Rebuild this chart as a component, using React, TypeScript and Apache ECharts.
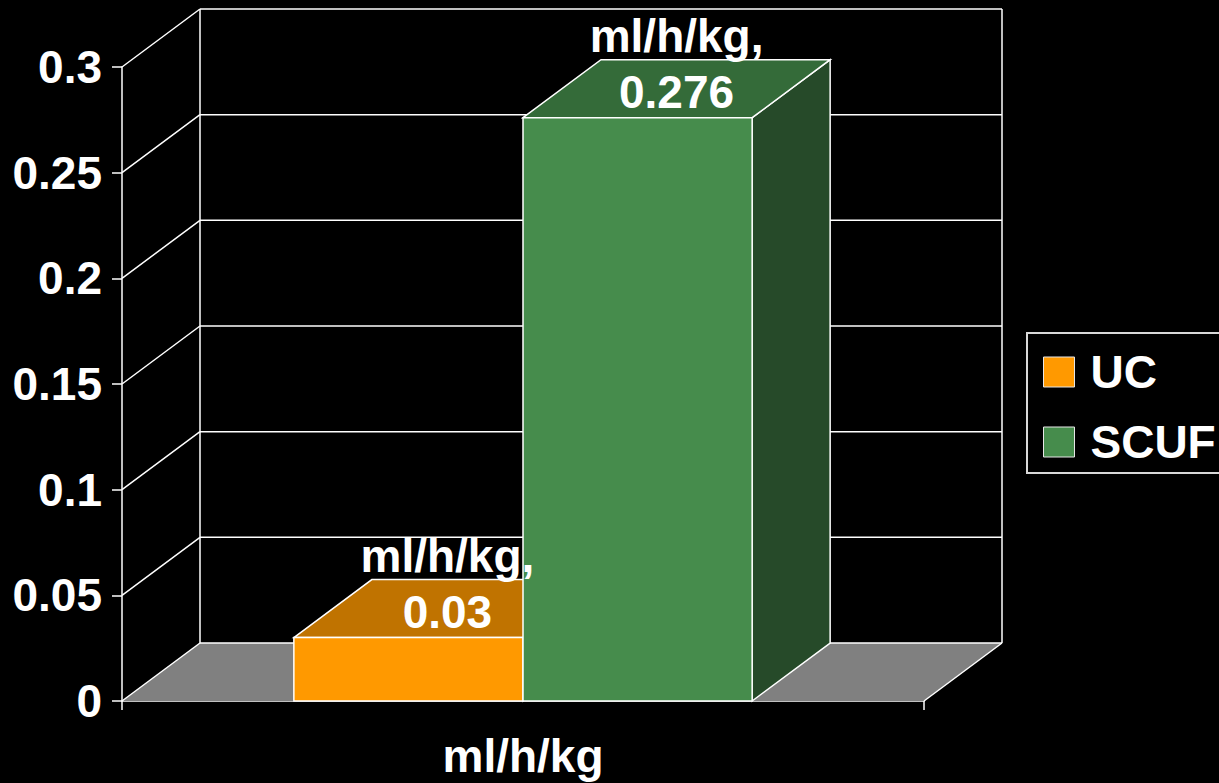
import React, { useEffect, useRef } from "react";
import * as echarts from "echarts";

// Chart data
const categories = ["ml/h/kg"];
const seriesNames = ["UC", "SCUF"];
const ucValues = [0.03];
const scufValues = [0.276];
const yTicks = [0, 0.05, 0.1, 0.15, 0.2, 0.25, 0.3];

const FONT = "'Liberation Sans', Arial, Helvetica, sans-serif";
// Pseudo-3D depth offset of the back wall (pixels)
const DX = 78;
const DY = 58;
// Excel-style gap width (relative to one bar)
const GAP = 1.5;

const palette: Record<string, { front: string; top: string; side: string }> = {
  UC: { front: "#FF9900", top: "#C07300", side: "#8A5200" },
  SCUF: { front: "#468C4C", top: "#346B39", side: "#264A29" },
};

const EDGE = { stroke: "#ffffff", lineWidth: 1.5 };

function barRenderer(pos: number, count: number, name: string) {
  const colors = palette[name];
  return (params: any, api: any) => {
    const cat = api.value(0);
    const val = api.value(1);
    const base = api.coord([cat, 0]);
    const top = api.coord([cat, val]);
    const band = api.size([1, 0])[0];
    const w = band / (count + GAP);
    const x0 = base[0] - (count * w) / 2 + pos * w;
    const x1 = x0 + w;
    const yb = base[1];
    const yt = top[1];
    const label = categories[cat] + ",\n" + String(val);
    return {
      type: "group",
      children: [
        {
          type: "polygon",
          shape: { points: [[x1, yb], [x1 + DX, yb - DY], [x1 + DX, yt - DY], [x1, yt]] },
          style: { fill: colors.side, ...EDGE },
        },
        {
          type: "polygon",
          shape: { points: [[x0, yt], [x0 + DX, yt - DY], [x1 + DX, yt - DY], [x1, yt]] },
          style: { fill: colors.top, ...EDGE },
        },
        {
          type: "rect",
          shape: { x: x0, y: yt, width: w, height: yb - yt },
          style: { fill: colors.front, ...EDGE },
        },
        {
          type: "text",
          z2: 50,
          x: (x0 + x1 + DX) / 2,
          y: yt - DY / 2 + 31,
          style: {
            text: label,
            fill: "#ffffff",
            fontSize: 46,
            fontWeight: "bold",
            fontFamily: FONT,
            align: "center",
            verticalAlign: "bottom",
            lineHeight: 56,
          },
        },
      ],
    };
  };
}

// Back wall, side wall and floor of the 3D plot area
function wallRenderer(params: any, api: any) {
  const v = api.value(1);
  const cs = params.coordSys;
  const left = cs.x;
  const right = cs.x + cs.width;
  const y = api.coord([0, v])[1];
  const children: any[] = [];
  if (v === yTicks[0]) {
    const yTop = api.coord([0, yTicks[yTicks.length - 1]])[1];
    children.push({
      type: "polygon",
      shape: { points: [[left, y], [right, y], [right + DX, y - DY], [left + DX, y - DY]] },
      style: { fill: "#808080" },
    });
    children.push({
      type: "line",
      shape: { x1: right, y1: y, x2: right + DX, y2: y - DY },
      style: EDGE,
    });
    children.push({
      type: "line",
      shape: { x1: left + DX, y1: y - DY, x2: left + DX, y2: yTop - DY },
      style: EDGE,
    });
    children.push({
      type: "line",
      shape: { x1: right + DX, y1: y - DY, x2: right + DX, y2: yTop - DY },
      style: EDGE,
    });
  }
  children.push({
    type: "line",
    shape: { x1: left + DX, y1: y - DY, x2: right + DX, y2: y - DY },
    style: EDGE,
  });
  children.push({
    type: "line",
    shape: { x1: left, y1: y, x2: left + DX, y2: y - DY },
    style: EDGE,
  });
  return { type: "group", children };
}

export default function App() {
  const ref = useRef<HTMLDivElement>(null);

  useEffect(() => {
    if (!ref.current) return;
    const chart = echarts.init(ref.current, undefined, { renderer: "svg" });
    const valuesBySeries = [ucValues, scufValues];
    chart.setOption({
      animation: false,
      backgroundColor: "#000000",
      grid: { left: 122, top: 67, right: 295, bottom: 82, containLabel: false },
      xAxis: {
        type: "category",
        data: categories,
        axisLine: { show: true, lineStyle: { color: "#ffffff", width: 1.5 } },
        axisTick: { show: true, length: 9, lineStyle: { color: "#ffffff", width: 1.5 } },
        axisLabel: {
          color: "#ffffff",
          fontSize: 46,
          fontWeight: "bold",
          fontFamily: FONT,
          margin: 32,
        },
        splitLine: { show: false },
      },
      yAxis: {
        type: "value",
        min: 0,
        max: 0.3,
        interval: 0.05,
        axisLine: { show: true, lineStyle: { color: "#ffffff", width: 1.5 } },
        axisTick: { show: true, length: 10, lineStyle: { color: "#ffffff", width: 1.5 } },
        axisLabel: {
          color: "#ffffff",
          fontSize: 46,
          fontWeight: "bold",
          fontFamily: FONT,
          margin: 20,
        },
        splitLine: { show: false },
      },
      legend: {
        data: seriesNames.map((n) => ({
          name: n,
          itemStyle: { color: palette[n].front, borderColor: "#e6e6e6", borderWidth: 1 },
        })),
        orient: "vertical",
        left: 1027,
        top: 333,
        icon: "rect",
        itemWidth: 31,
        itemHeight: 30,
        itemGap: 22,
        padding: [15, 16, 7, 16],
        borderColor: "#d9d9d9",
        borderWidth: 2,
        textStyle: {
          color: "#ffffff",
          fontSize: 46,
          fontWeight: "bold",
          fontFamily: FONT,
          lineHeight: 48,
          padding: [0, 0, 0, 11],
        },
      },
      series: [
        {
          type: "custom",
          name: "wall",
          z: 1,
          silent: true,
          renderItem: wallRenderer,
          data: yTicks.map((v) => [0, v]),
          encode: { x: 0, y: 1 },
        },
        ...seriesNames.map((name, i) => ({
          type: "custom",
          name,
          z: 2,
          itemStyle: { color: palette[name].front },
          renderItem: barRenderer(i, seriesNames.length, name),
          data: categories.map((_, c) => [c, valuesBySeries[i][c]]),
          encode: { x: 0, y: 1 },
        })),
      ],
    });
    return () => chart.dispose();
  }, []);

  return (
    <div
      ref={ref}
      style={{ position: "fixed", left: 0, top: 0, width: 1219, height: 783, background: "#000" }}
    />
  );
}
